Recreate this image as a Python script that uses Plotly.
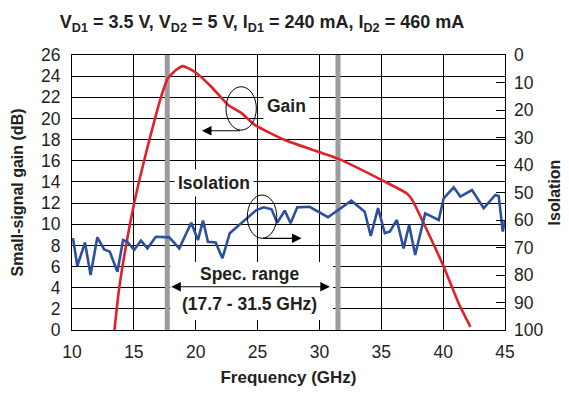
import plotly.graph_objects as go

# Gain (left axis, dB)
gain_freq = [13.43, 13.83, 14.7, 15.45, 16.26, 17.2, 17.75, 18.43, 18.97, 20.05, 21.26, 22.6,
             23.7, 24.77, 27.2, 29.9, 31.5, 35.0, 37.07, 37.5, 38.3, 40.04, 41.26, 42.2]
gain_db = [0.0, 4.1, 10.1, 14.2, 18.0, 22.05, 23.8, 24.6, 24.95, 24.3, 23.0, 21.3,
           20.5, 19.4, 17.96, 16.85, 16.2, 14.2, 12.9, 12.3, 10.4, 6.0, 2.5, 0.3]

# Isolation (right axis, reversed)
iso_freq = [10.08, 10.43, 11.05, 11.5, 12.05, 12.6, 13.05, 13.67, 14.13, 14.48, 15.02, 15.57,
            16.1, 16.78, 17.86, 18.67, 19.64, 20.18, 20.59, 20.99, 21.61, 22.16, 22.75, 23.83,
            24.9, 25.5, 26.13, 26.59, 27.2, 27.67, 28.21, 29.2, 30.69, 32.58, 33.66, 34.15,
            34.74, 35.28, 35.69, 36.09, 36.26, 36.8, 37.25, 37.74, 38.55, 39.09, 39.64, 40.04,
            40.85, 41.39, 42.33, 43.28, 44.22, 44.49, 44.82, 45.0]
iso_val = [66.6, 76.7, 68.2, 80.0, 66.3, 70.7, 71.5, 78.8, 67.3, 67.9, 70.9, 67.5,
           70.3, 66.1, 66.3, 70.3, 61.0, 67.3, 60.2, 67.9, 68.2, 73.9, 64.8, 60.6,
           56.4, 55.4, 56.1, 61.0, 56.6, 61.2, 55.4, 55.2, 59.0, 53.0, 57.0, 65.8,
           55.7, 64.8, 64.2, 61.2, 60.0, 70.3, 61.8, 72.7, 57.6, 58.8, 60.0, 52.1,
           48.1, 51.5, 49.1, 55.7, 50.9, 51.3, 64.2, 60.0]

x_ticks = [10, 15, 20, 25, 30, 35, 40, 45]
left_ticks = list(range(0, 27, 2))
right_ticks = list(range(0, 101, 10))
spec_lo, spec_hi = 17.7, 31.5

FONT = "Liberation Sans, Arial, sans-serif"
TXT = "#231f20"
RED = "#e3202a"
BLUE = "#2c4f9f"

fig = go.Figure()
fig.add_trace(go.Scatter(x=iso_freq, y=iso_val, mode="lines", yaxis="y2",
                         line=dict(color=BLUE, width=2.6), showlegend=False))
fig.add_trace(go.Scatter(x=gain_freq, y=gain_db, mode="lines",
                         line=dict(color=RED, width=2.6, shape="spline", smoothing=0.5),
                         showlegend=False))

# spec range bars
for xv in (spec_lo, spec_hi):
    fig.add_shape(type="line", x0=xv, x1=xv, y0=0, y1=26, xref="x", yref="y",
                  line=dict(color="#9b9b9b", width=5), layer="between")
# white box behind spec range text
fig.add_shape(type="rect", x0=17.95, x1=31.1, y0=0.95, y1=6.43, xref="x", yref="y",
              fillcolor="white", line=dict(width=0), layer="between")

# ellipses
fig.add_shape(type="circle", x0=22.45, x1=24.9, y0=18.9, y1=23.0, xref="x", yref="y",
              line=dict(color="black", width=1))
fig.add_shape(type="circle", x0=24.17, x1=26.55, y0=8.67, y1=12.76, xref="x", yref="y",
              line=dict(color="black", width=1))

tf = dict(family=FONT, size=17.5, color=TXT)
# arrows
fig.add_annotation(x=20.5, y=18.84, ax=23.7, ay=18.84, axref="x", ayref="y", xref="x", yref="y",
                   text="", showarrow=True, arrowhead=2, arrowsize=1.6, arrowwidth=1.2, arrowcolor="black")
fig.add_annotation(x=28.56, y=8.67, ax=25.33, ay=8.67, axref="x", ayref="y", xref="x", yref="y",
                   text="", showarrow=True, arrowhead=2, arrowsize=1.6, arrowwidth=1.2, arrowcolor="black")
fig.add_annotation(x=30.85, y=4.09, ax=17.9, ay=4.09, axref="x", ayref="y", xref="x", yref="y",
                   text="", showarrow=True, arrowhead=2, arrowside="end+start", arrowsize=1.6,
                   arrowwidth=1.2, arrowcolor="black")
# labels
fig.add_annotation(x=27.3, y=21.2, xref="x", yref="y", text="<b>Gain</b>", showarrow=False,
                   font=tf, bgcolor="white", borderpad=3)
fig.add_annotation(x=21.46, y=13.94, xref="x", yref="y", text="<b>Isolation</b>", showarrow=False,
                   font=tf, bgcolor="white", borderpad=3)
fig.add_annotation(x=24.35, y=5.29, xref="x", yref="y", text="<b>Spec. range</b>", showarrow=False,
                   font=tf)
fig.add_annotation(x=24.31, y=2.46, xref="x", yref="y", text="<b>(17.7 - 31.5 GHz)</b>", showarrow=False,
                   font=tf)

fig.update_layout(
    width=569, height=395,
    margin=dict(l=72, r=64, t=55, b=65),
    paper_bgcolor="white", plot_bgcolor="white",
    font=dict(family=FONT, color=TXT),
    title=dict(text="<b>V<sub>D1</sub> = 3.5 V, V<sub>D2</sub> = 5 V, I<sub>D1</sub> = 240 mA, I<sub>D2</sub> = 460 mA</b>",
               x=262 / 569, xanchor="center", y=1 - 22 / 395, yanchor="middle",
               font=dict(family=FONT, size=18, color=TXT)),
    xaxis=dict(range=[10, 45], tickvals=x_ticks, showgrid=True, gridcolor="black", gridwidth=1.2,
               showline=True, linecolor="black", linewidth=1.2, mirror=True, ticks="",
               tickfont=dict(size=17.5, color=TXT), zeroline=False, ticklabelstandoff=6,
               automargin=False,
               title=dict(text="<b>Frequency (GHz)</b>", font=dict(size=17, color=TXT), standoff=10)),
    yaxis=dict(range=[0, 26], tickvals=left_ticks, showgrid=True, gridcolor="black", gridwidth=1.2,
               showline=True, linecolor="black", linewidth=1.2, mirror=True, ticks="",
               tickfont=dict(size=17.5, color=TXT), zeroline=False, ticklabelstandoff=7,
               automargin=False,
               title=dict(text="<b>Small-signal gain (dB)</b>", font=dict(size=16, color=TXT), standoff=13)),
    yaxis2=dict(range=[100, 0], tickvals=right_ticks, overlaying="y", side="right", showgrid=False,
                ticks="inside", ticklen=9, tickcolor="black", tickwidth=1.2, zeroline=False,
                tickfont=dict(size=17.5, color=TXT), ticklabelstandoff=8, automargin=False,
                title=dict(text="<b>Isolation</b>", font=dict(size=16, color=TXT), standoff=6)),
)

fig.write_html("out.html")
